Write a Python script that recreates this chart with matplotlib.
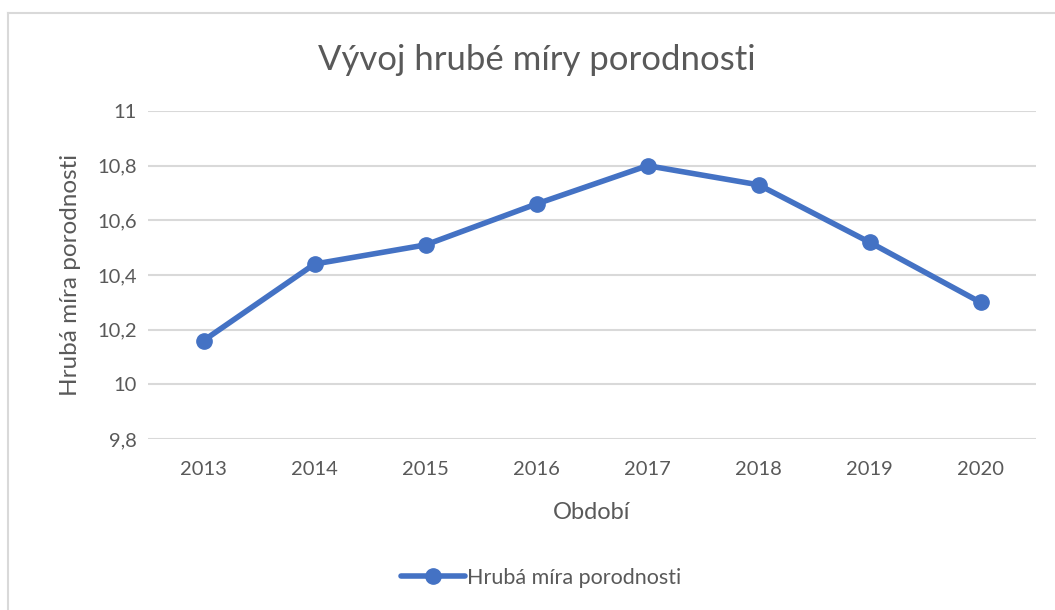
import matplotlib.pyplot as plt
from matplotlib.lines import Line2D

years = ["2013", "2014", "2015", "2016", "2017", "2018", "2019", "2020"]
rate = [10.16, 10.44, 10.51, 10.66, 10.80, 10.73, 10.52, 10.30]
yticks = [9.8, 10.0, 10.2, 10.4, 10.6, 10.8, 11.0]
ytick_labels = ["9,8", "10", "10,2", "10,4", "10,6", "10,8", "11"]

plt.rcParams["font.family"] = ["Lato", "DejaVu Sans"]
txt = "#595959"
blue = "#4472C4"

W, H = 1055, 610
fig = plt.figure(figsize=(W / 100, H / 100), dpi=100)
ax = fig.add_axes([148 / W, 1 - 439 / H, (1036 - 148) / W, (439 - 111) / H])

x = list(range(len(years)))
ax.plot(x, rate, color=blue, lw=4, marker="o", ms=11, solid_capstyle="round",
        label="Hrubá míra porodnosti", zorder=3)

ax.set_xlim(-0.5, len(years) - 0.5)
ax.set_ylim(9.8, 11.0)
ax.set_yticks(yticks)
ax.set_yticklabels(ytick_labels)
ax.set_xticks(x)
ax.set_xticklabels(years)
ax.grid(axis="y", color="#d9d9d9", lw=1.5)
ax.set_axisbelow(True)
for s in ax.spines.values():
    s.set_visible(False)
ax.tick_params(length=0, labelsize=14.5, colors=txt)
ax.tick_params(axis="x", pad=16)
ax.tick_params(axis="y", pad=8)

ax.set_xlabel("Období", fontsize=17, color=txt, labelpad=17)
ax.set_ylabel("Hrubá míra porodnosti", fontsize=17.5, color=txt, labelpad=12)
fig.text(537 / W, 1 - 60 / H, "Vývoj hrubé míry porodnosti", fontsize=25,
         color=txt, ha="center", va="center")

ax.legend(loc="center", bbox_to_anchor=(541 / W, 1 - 578 / H),
          bbox_transform=fig.transFigure, frameon=False, fontsize=15.5,
          labelcolor=txt, handlelength=3.0, handletextpad=0.1)

# chart border (only top and left visible in the crop)
fig.add_artist(Line2D([8 / W, 1], [1 - 13 / H, 1 - 13 / H], color="#d9d9d9", lw=1.5))
fig.add_artist(Line2D([8 / W, 8 / W], [0, 1 - 13 / H], color="#d9d9d9", lw=1.5))

fig.savefig("out.png", dpi=100)
